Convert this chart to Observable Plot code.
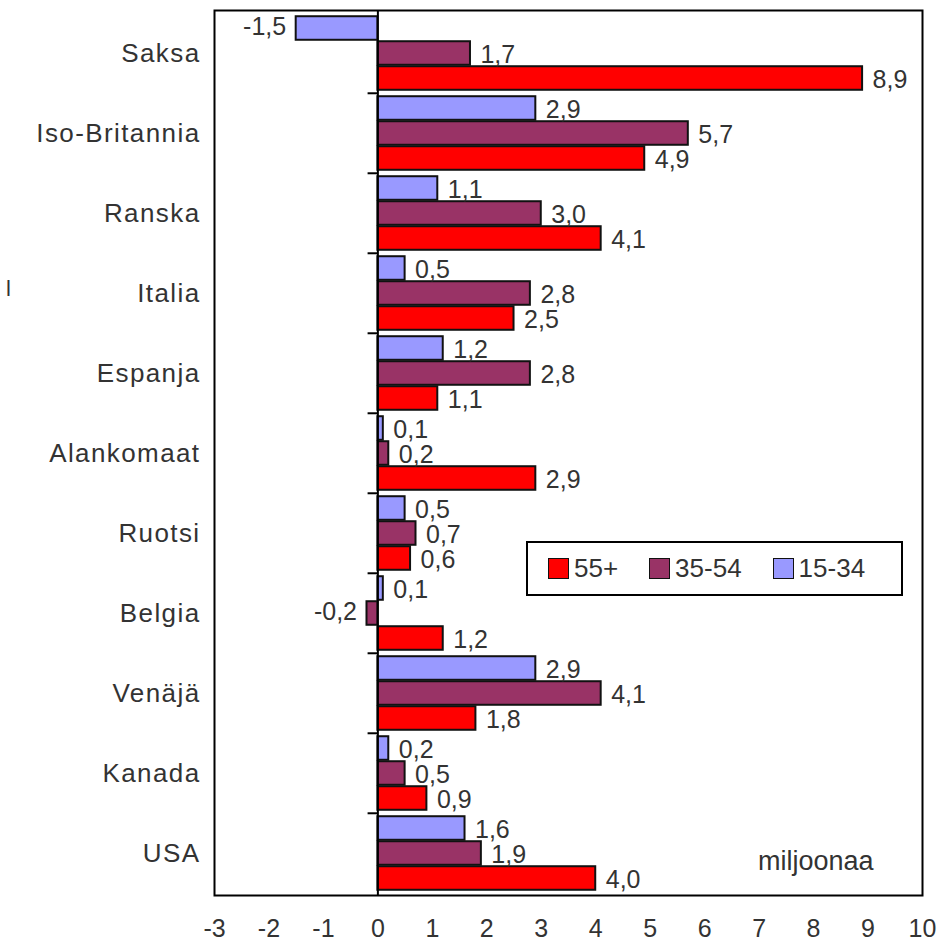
<!DOCTYPE html>
<html>
<head>
<meta charset="utf-8">
<script src="https://cdn.jsdelivr.net/npm/d3@7"></script>
<script src="https://cdn.jsdelivr.net/npm/@observablehq/plot@0.6"></script>
<style>
  body { margin: 0; background: #fff; }
  #chart { position: relative; width: 937px; height: 952px; font-family: "Liberation Sans", Arial, sans-serif; color: #333; }
  #chart svg { display: block; }
  #chart g[aria-label^="x-axis"] text { font-size: 25px; }
  #chart g[aria-label^="y-axis"] text { font-size: 26px; letter-spacing: 1.4px; }
  .legend { position: absolute; left: 526px; top: 541px; width: 353px; height: 51px; border: 2px solid #000; background: #fff;
            display: flex; align-items: center; padding-left: 20px; box-sizing: content-box; font-size: 26px; }
  .legend .item { display: flex; align-items: center; margin-right: 31px; }
  .legend .sw { width: 19px; height: 19px; border: 1.5px solid #111; margin-right: 5px; }
  .stray { position: absolute; left: 6px; top: 276px; font-size: 22px; color: #333; }
</style>
</head>
<body>
<div id="chart"></div>
<script>
// Väestönmuutos ikäryhmittäin, miljoonaa
const countries = ["Saksa", "Iso-Britannia", "Ranska", "Italia", "Espanja", "Alankomaat", "Ruotsi", "Belgia", "Venäjä", "Kanada", "USA"];
const groups = ["55+", "35-54", "15-34"];
const age15to34 = [-1.5, 2.9, 1.1, 0.5, 1.2, 0.1, 0.5, 0.1, 2.9, 0.2, 1.6];
const age35to54 = [1.7, 5.7, 3.0, 2.8, 2.8, 0.2, 0.7, -0.2, 4.1, 0.5, 1.9];
const age55plus = [8.9, 4.9, 4.1, 2.5, 1.1, 2.9, 0.6, 1.2, 1.8, 0.9, 4.0];
const xTicks = [-3, -2, -1, 0, 1, 2, 3, 4, 5, 6, 7, 8, 9, 10];
const unitLabel = "miljoonaa";
const colors = {"55+": "#ff0000", "35-54": "#993366", "15-34": "#9999ff"};

const rows = countries.flatMap((country, i) => [
  {country, group: "15-34", value: age15to34[i]},
  {country, group: "35-54", value: age35to54[i]},
  {country, group: "55+", value: age55plus[i]}
]);

const width = 937, height = 952;
const margin = {top: 10, right: 15, bottom: 57, left: 214};
const band = (height - margin.top - margin.bottom) / countries.length;
const barSize = 24;
const barStep = 25;
const inset = (band - barSize) / 2;
// vertical offset of each age group's bar within its country band
const offsets = {"15-34": -barStep, "35-54": 0, "55+": barStep};
const fmt = v => v.toFixed(1).replace(".", ",");

const marks = [];
for (const g of ["15-34", "35-54", "55+"]) {
  const data = rows.filter(d => d.group === g);
  marks.push(Plot.barX(data, {
    x: "value", y: "country", fill: colors[g], stroke: "#111", strokeWidth: 2,
    insetTop: inset, insetBottom: inset, dy: offsets[g]
  }));
}
for (const g of ["15-34", "35-54", "55+"]) {
  const data = rows.filter(d => d.group === g);
  marks.push(Plot.text(data.filter(d => d.value >= 0), {
    x: "value", y: "country", text: d => fmt(d.value), textAnchor: "start",
    dx: 10, dy: offsets[g] + 1, fontSize: 25, fill: "#333"
  }));
  marks.push(Plot.text(data.filter(d => d.value < 0), {
    x: "value", y: "country", text: d => fmt(d.value), textAnchor: "end",
    dx: -10, dy: offsets[g] - 2, fontSize: 25, fill: "#333"
  }));
}
marks.push(
  Plot.ruleX([0], {stroke: "#000", strokeWidth: 2}),
  Plot.ruleY(countries.slice(1), {x1: -0.18, x2: 0, dy: -band / 2, stroke: "#000", strokeWidth: 2}),
  Plot.text([unitLabel], {frameAnchor: "bottom-right", textAnchor: "end", lineAnchor: "bottom",
    dx: -49, dy: -26, fontSize: 27, fill: "#333", style: "letter-spacing: 1px"}),
  Plot.frame({stroke: "#000", strokeWidth: 2})
);

const chart = Plot.plot({
  width, height,
  marginTop: margin.top, marginRight: margin.right, marginBottom: margin.bottom, marginLeft: margin.left,
  style: {fontFamily: '"Liberation Sans", Arial, sans-serif', fontSize: "24px", color: "#333", background: "#fff"},
  x: {domain: [-3, 10], ticks: xTicks, tickFormat: d => String(d), tickSize: 0, tickPadding: 24, label: null},
  y: {domain: countries, padding: 0, tickSize: 0, tickPadding: 14, label: null},
  marks
});

const root = document.getElementById("chart");
root.appendChild(chart);

const legend = document.createElement("div");
legend.className = "legend";
for (const g of groups) {
  const item = document.createElement("div");
  item.className = "item";
  const sw = document.createElement("span");
  sw.className = "sw";
  sw.style.background = colors[g];
  const label = document.createElement("span");
  label.textContent = g;
  item.append(sw, label);
  legend.appendChild(item);
}
root.appendChild(legend);

const stray = document.createElement("div");
stray.className = "stray";
stray.textContent = "l";
root.appendChild(stray);
</script>
</body>
</html>
